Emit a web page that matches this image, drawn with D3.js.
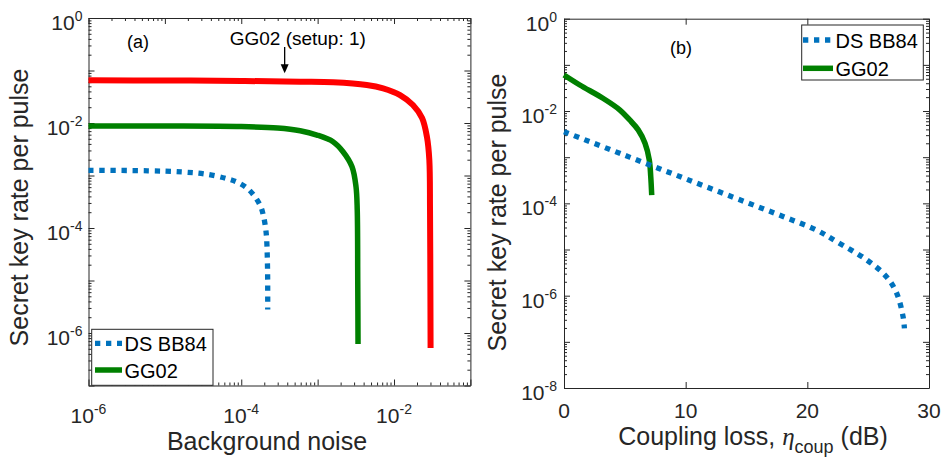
<!doctype html>
<html>
<head>
  <meta charset="utf-8">
  <title>Secret key rate per pulse</title>
  <script src="https://d3js.org/d3.v7.min.js"></script>
  <style>
    body { margin: 0; background: #fff; }
    text { font-family: "Liberation Sans", Arial, Helvetica, sans-serif; fill: #262626; }
  </style>
</head>
<body>
  <div id="chart"></div>
  <script>
    // (a) key rate vs background noise
    var noiseSetup1 = [1e-6, 1e-5, 1e-4, 5.9e-4, 1.6e-3, 4.4e-3, 7.2e-3, 0.012, 0.0177, 0.0233, 0.0270, 0.0290, 0.0296, 0.0299, 0.0301];
    var rateSetup1 = [0.065, 0.0645, 0.0632, 0.0612, 0.0596, 0.053, 0.0458, 0.0341, 0.022, 0.01245, 0.0054, 0.00197, 2.2e-4, 1.0e-5, 5.2e-7];
    var noiseGG02 = [1e-6, 1e-5, 1e-4, 3e-4, 5.9e-4, 9.8e-4, 1.59e-3, 2.15e-3, 2.82e-3, 3.18e-3, 3.30e-3, 3.35e-3, 3.38e-3];
    var rateGG02 = [0.00877, 0.00875, 0.00855, 0.0080, 0.0071, 0.0059, 0.0044, 0.00284, 0.00147, 6.1e-4, 2.2e-4, 1.0e-5, 6.2e-7];
    var noiseBB84 = [1e-6, 6.0e-6, 1.67e-5, 3.35e-5, 6.5e-5, 8.97e-5, 1.2e-4, 1.51e-4, 1.80e-4, 1.97e-4, 2.09e-4, 2.15e-4, 2.21e-4, 2.22e-4];
    var rateBB84 = [1.256e-3, 1.23e-3, 1.17e-3, 1.07e-3, 8.7e-4, 7.4e-4, 5.7e-4, 3.94e-4, 2.55e-4, 1.6e-4, 9.6e-5, 6.1e-5, 1.58e-5, 2.8e-6];

    // (b) key rate vs coupling loss (dB)
    var lossGG02 = [0, 1.3, 3.2, 4.6, 5.4, 6.1, 6.66, 7.01, 7.13, 7.21];
    var rateLossGG02 = [0.0603, 0.0366, 0.0189, 0.0105, 6.4e-3, 3.9e-3, 2.0e-3, 8.7e-4, 3.8e-4, 1.5e-4];
    var lossBB84 = [0, 5, 10, 15, 18, 20.8, 22.4, 24.9, 26.5, 27.35, 27.87, 27.98];
    var rateLossBB84 = [3.56e-3, 1.1e-3, 3.4e-4, 1.05e-4, 5.2e-5, 2.6e-5, 1.48e-5, 5.9e-6, 2.58e-6, 1.12e-6, 3.5e-7, 1.96e-7];

    // tick labels
    var xTickExpA = [-6, -4, -2];
    var yTickExpA = [0, -2, -4, -6];
    var xTicksB = [0, 10, 20, 30];
    var yTickExpB = [0, -2, -4, -6, -8];
    var legendNames = ["DS BB84", "GG02"];

    var blue = "#0072bd", green = "#008000", red = "#ff0000", axisColor = "#262626";

    var svg = d3.select("#chart").append("svg")
      .attr("width", 944)
      .attr("height", 457);

    // scales
    var xA = d3.scaleLog().domain([1e-6, 1e-1]).range([88.5, 470.4]);
    var yA = d3.scaleLog().domain([1e-7, 1]).range([385.5, 18]);
    var xB = d3.scaleLinear().domain([0, 30]).range([564, 929]);
    var yB = d3.scaleLog().domain([1e-8, 1]).range([388, 18.7]);

    function zip(a, b) { return a.map(function (v, i) { return [v, b[i]]; }); }

    // decades and 2..9 minor ticks of a log domain
    function logTicks(domain) {
      var e0 = Math.round(Math.log10(domain[0])), e1 = Math.round(Math.log10(domain[1]));
      var major = [], minor = [];
      for (var e = e0; e <= e1; e++) {
        major.push(Math.pow(10, e));
        if (e < e1) for (var k = 2; k <= 9; k++) minor.push(k * Math.pow(10, e));
      }
      return { major: major, minor: minor };
    }

    // box with inward ticks on all four sides
    function drawFrame(x, y, xMajor, xMinor, yMajor, yMinor) {
      var xr = x.range(), yr = y.range();
      var g = svg.append("g").style("color", axisColor);
      var sides = [
        [d3.axisBottom(x), "translate(0," + yr[0] + ")", xMajor, xMinor],
        [d3.axisTop(x), "translate(0," + yr[1] + ")", xMajor, xMinor],
        [d3.axisLeft(y), "translate(" + xr[0] + ",0)", yMajor, yMinor],
        [d3.axisRight(y), "translate(" + xr[1] + ",0)", yMajor, yMinor]
      ];
      sides.forEach(function (s) {
        var ax = g.append("g").attr("transform", s[1]);
        ax.call(s[0].tickValues(s[2]).tickSizeInner(-6).tickSizeOuter(0).tickFormat(""));
        if (s[3].length) {
          var sub = g.append("g").attr("transform", s[1]);
          sub.call(s[0].tickValues(s[3]).tickSizeInner(-3).tickSizeOuter(0).tickFormat(""));
          sub.select(".domain").remove();
        }
      });
      g.selectAll("line, path").attr("stroke-width", 1);
    }

    function powLabel(sel, exp, baseSize, supSize) {
      sel.append("tspan").attr("font-size", baseSize).text("10");
      sel.append("tspan").attr("font-size", supSize).attr("dy", -9).text(exp);
    }

    var line = function (x, y) {
      return d3.line()
        .x(function (d) { return x(d[0]); })
        .y(function (d) { return y(d[1]); })
        .curve(d3.curveCatmullRom.alpha(0.5));
    };

    function drawSeries(data, x, y, color, width, dotted) {
      svg.append("path")
        .datum(data)
        .attr("fill", "none")
        .attr("stroke", color)
        .attr("stroke-width", width)
        .attr("stroke-dasharray", dotted ? "5.3,5.7" : null)
        .attr("d", line(x, y));
    }

    function drawLegend(x0, y0, w, h, rows) {
      svg.append("rect")
        .attr("x", x0).attr("y", y0).attr("width", w).attr("height", h)
        .attr("fill", "#fff").attr("stroke", axisColor).attr("stroke-width", 1);
      rows.forEach(function (r, i) {
        var ly = r.y;
        svg.append("line")
          .attr("x1", r.x1).attr("x2", r.x2).attr("y1", ly).attr("y2", ly)
          .attr("stroke", r.color)
          .attr("stroke-width", r.width)
          .attr("stroke-dasharray", r.dotted ? "5.3,5.7" : null);
        svg.append("text")
          .attr("x", r.x2 + 2.5).attr("y", ly + 8)
          .attr("font-size", 20).style("fill", "#000")
          .text(legendNames[i]);
      });
    }

    // ---------- panel (a) ----------
    var tA = logTicks(xA.domain()), tAy = logTicks(yA.domain());
    drawFrame(xA, yA, tA.major, tA.minor, tAy.major, tAy.minor);

    drawSeries(zip(noiseSetup1, rateSetup1), xA, yA, red, 6, false);
    drawSeries(zip(noiseGG02, rateGG02), xA, yA, green, 5.5, false);
    drawSeries(zip(noiseBB84, rateBB84), xA, yA, blue, 5.3, true);

    yTickExpA.forEach(function (e) {
      svg.append("text")
        .attr("x", xA.range()[0] - 6)
        .attr("y", yA(Math.pow(10, e)) + 12)
        .attr("text-anchor", "end")
        .call(powLabel, e, 21, 14);
    });
    xTickExpA.forEach(function (e) {
      svg.append("text")
        .attr("x", xA(Math.pow(10, e)))
        .attr("y", 423)
        .attr("text-anchor", "middle")
        .call(powLabel, e, 21, 14);
    });

    svg.append("text")
      .attr("x", 267).attr("y", 450)
      .attr("text-anchor", "middle")
      .attr("font-size", 25)
      .text("Background noise");

    svg.append("text")
      .attr("transform", "translate(28,207.5) rotate(-90)")
      .attr("text-anchor", "middle")
      .attr("font-size", 25)
      .text("Secret key rate per pulse");

    svg.append("text")
      .attr("x", 127).attr("y", 48)
      .attr("font-size", 18).style("fill", "#000")
      .text("(a)");

    // annotation arrow for setup 1
    var arrowX = xA(3.7e-4), arrowTop = yA(Math.pow(10, -0.55)), arrowTip = yA(Math.pow(10, -1.05));
    svg.append("text")
      .attr("x", arrowX - 55).attr("y", arrowTop - 2)
      .attr("font-size", 19).style("fill", "#000")
      .text("GG02 (setup: 1)");
    svg.append("line")
      .attr("x1", arrowX).attr("x2", arrowX)
      .attr("y1", arrowTop).attr("y2", arrowTip - 6)
      .attr("stroke", "#000").attr("stroke-width", 1.3);
    svg.append("path")
      .attr("d", "M" + (arrowX - 4) + "," + (arrowTip - 9) + "L" + (arrowX + 4) + "," + (arrowTip - 9) + "L" + arrowX + "," + arrowTip + "Z")
      .attr("fill", "#000");

    drawLegend(91.7, 329.3, 121.3, 56, [
      { x1: 95, x2: 122, y: 343.3, color: blue, width: 5.3, dotted: true },
      { x1: 95, x2: 122, y: 370, color: green, width: 5.5, dotted: false }
    ]);

    // ---------- panel (b) ----------
    var tBy = logTicks(yB.domain());
    drawFrame(xB, yB, xTicksB, [], tBy.major, tBy.minor);

    drawSeries(zip(lossGG02, rateLossGG02), xB, yB, green, 5.5, false);
    drawSeries(zip(lossBB84, rateLossBB84), xB, yB, blue, 5.3, true);

    yTickExpB.forEach(function (e) {
      svg.append("text")
        .attr("x", xB.range()[0] - 7)
        .attr("y", yB(Math.pow(10, e)) + 12)
        .attr("text-anchor", "end")
        .call(powLabel, e, 21, 14);
    });
    xTicksB.forEach(function (v) {
      svg.append("text")
        .attr("x", xB(v))
        .attr("y", 418)
        .attr("text-anchor", "middle")
        .attr("font-size", 21)
        .text(v);
    });

    var xl = svg.append("text")
      .attr("x", 753).attr("y", 445)
      .attr("text-anchor", "middle")
      .attr("font-size", 25);
    xl.append("tspan").text("Coupling loss, ");
    xl.append("tspan").style("font-family", "'Liberation Serif', 'Times New Roman', serif").style("font-style", "italic").text("η");
    xl.append("tspan").attr("font-size", 18).attr("dy", 8).text("coup");
    xl.append("tspan").attr("dy", -8).text(" (dB)");

    svg.append("text")
      .attr("transform", "translate(506,212.5) rotate(-90)")
      .attr("text-anchor", "middle")
      .attr("font-size", 25)
      .text("Secret key rate per pulse");

    svg.append("text")
      .attr("x", 670).attr("y", 54)
      .attr("font-size", 18).style("fill", "#000")
      .text("(b)");

    drawLegend(801.7, 25, 121.6, 55, [
      { x1: 803, x2: 833, y: 40, color: blue, width: 5.3, dotted: true },
      { x1: 803, x2: 833, y: 68.3, color: green, width: 5.5, dotted: false }
    ]);
  </script>
</body>
</html>
